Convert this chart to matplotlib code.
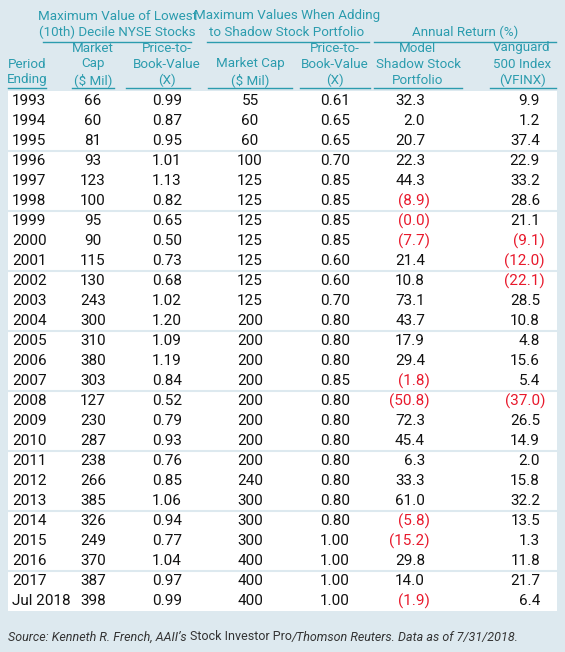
import matplotlib.pyplot as plt
from matplotlib.patches import Rectangle

periods = ["1993", "1994", "1995", "1996", "1997", "1998", "1999", "2000", "2001",
           "2002", "2003", "2004", "2005", "2006", "2007", "2008", "2009", "2010",
           "2011", "2012", "2013", "2014", "2015", "2016", "2017", "Jul 2018"]
decile_cap = [66, 60, 81, 93, 123, 100, 95, 90, 115, 130, 243, 300, 310, 380, 303,
              127, 230, 287, 238, 266, 385, 326, 249, 370, 387, 398]
decile_pb = [0.99, 0.87, 0.95, 1.01, 1.13, 0.82, 0.65, 0.50, 0.73, 0.68, 1.02, 1.20,
             1.09, 1.19, 0.84, 0.52, 0.79, 0.93, 0.76, 0.85, 1.06, 0.94, 0.77, 1.04,
             0.97, 0.99]
add_cap = [55, 60, 60, 100, 125, 125, 125, 125, 125, 125, 125, 200, 200, 200, 200,
           200, 200, 200, 200, 240, 300, 300, 300, 400, 400, 400]
add_pb = [0.61, 0.65, 0.65, 0.70, 0.85, 0.85, 0.85, 0.85, 0.60, 0.60, 0.70, 0.80,
          0.80, 0.80, 0.85, 0.80, 0.80, 0.80, 0.80, 0.80, 0.80, 0.80, 1.00, 1.00,
          1.00, 1.00]
model_ret = [32.3, 2.0, 20.7, 22.3, 44.3, -8.9, -0.0, -7.7, 21.4, 10.8, 73.1, 43.7,
             17.9, 29.4, -1.8, -50.8, 72.3, 45.4, 6.3, 33.3, 61.0, -5.8, -15.2, 29.8,
             14.0, -1.9]
model_neg = [False, False, False, False, False, True, True, True, False, False, False,
             False, False, False, True, True, False, False, False, False, False, True,
             True, False, False, True]
vfinx_ret = [9.9, 1.2, 37.4, 22.9, 33.2, 28.6, 21.1, -9.1, -12.0, -22.1, 28.5, 10.8,
             4.8, 15.6, 5.4, -37.0, 26.5, 14.9, 2.0, 15.8, 32.2, 13.5, 1.3, 11.8,
             21.7, 6.4]

BG = "#dde9ef"
TEAL = "#2b9cae"
RED = "#e8192c"
TXT = "#111111"
FONT = "Roboto"

fig = plt.figure(figsize=(5.65, 6.52), dpi=100, facecolor=BG)
ax = fig.add_axes([0, 0, 1, 1])
ax.set_xlim(0, 565)
ax.set_ylim(652, 0)
ax.axis("off")

# white body with blue separators every 3 rows
top = 91
rh = 20
ax.add_patch(Rectangle((8, top), 549, rh * len(periods), facecolor="white", edgecolor="none"))
for k in range(1, (len(periods) + 2) // 3):
    ax.plot([8, 557], [top + 3 * rh * k] * 2, color=BG, lw=1.5)

def htxt(x, y, s, ha="center"):
    ax.text(x, y, s, ha=ha, va="center", color=TEAL, fontsize=9.6, family=FONT)

# group headers
htxt(117, 16, "Maximum Value of Lowest")
htxt(117, 32, "(10th) Decile NYSE Stocks")
htxt(287, 16, "Maximum Values When Adding")
htxt(287, 32, "to Shadow Stock Portfolio")
htxt(465, 32, "Annual Return (%)")
for x0, x1 in [(43, 191), (207, 369), (374, 556)]:
    ax.plot([x0, x1], [42, 42], color=TEAL, lw=1)

subs = [
    (27, ["", "Period", "Ending"], (8, 46)),
    (93, ["Market", "Cap", "($ Mil)"], (72, 114)),
    (167, ["Price-to-", "Book-Value", "(X)"], (126, 190)),
    (250, ["", "Market Cap", "($ Mil)"], (208, 292)),
    (335, ["Price-to-", "Book-Value", "(X)"], (300, 370)),
    (418, ["Model", "Shadow Stock", "Portfolio"], (374, 462)),
    (522, ["Vanguard", "500 Index", "(VFINX)"], (490, 556)),
]
for x, lines, (u0, u1) in subs:
    for i, s in enumerate(lines):
        if s:
            htxt(x, 48 + 16 * i, s)
    ax.plot([u0, u1], [88, 88], color=TEAL, lw=1)

def num(x, y, v, neg, fmt):
    if neg:
        ax.text(x + 5, y, "(" + fmt.format(abs(v)) + ")", ha="right", va="center",
                color=RED, fontsize=11, family=FONT)
    else:
        ax.text(x, y, fmt.format(v), ha="right", va="center",
                color=TXT, fontsize=11, family=FONT)

for i, p in enumerate(periods):
    y = top + rh * i + 10
    ax.text(12, y, p, ha="left", va="center", color=TXT, fontsize=11, family=FONT)
    ax.text(93, y, str(decile_cap[i]), ha="center", va="center", color=TXT, fontsize=11, family=FONT)
    ax.text(167, y, "{:.2f}".format(decile_pb[i]), ha="center", va="center", color=TXT, fontsize=11, family=FONT)
    ax.text(250, y, str(add_cap[i]), ha="center", va="center", color=TXT, fontsize=11, family=FONT)
    ax.text(335, y, "{:.2f}".format(add_pb[i]), ha="center", va="center", color=TXT, fontsize=11, family=FONT)
    num(425, y, model_ret[i], model_neg[i], "{:.1f}")
    num(540, y, vfinx_ret[i], vfinx_ret[i] < 0, "{:.1f}")

# source line: mixed italic / upright
src = [("Source: Kenneth R. French, AAII\u2019s ", "italic"), ("Stock Investor Pro", "normal"),
       ("/Thomson Reuters. Data as of 7/31/2018.", "italic")]
fig.canvas.draw()
renderer = fig.canvas.get_renderer()
x = 8
for s, st in src:
    t = ax.text(x, 637, s, ha="left", va="center", color="#333333", fontsize=9,
                family=FONT, style=st)
    x += t.get_window_extent(renderer=renderer).width

fig.savefig("out.png", dpi=100, facecolor=BG)
